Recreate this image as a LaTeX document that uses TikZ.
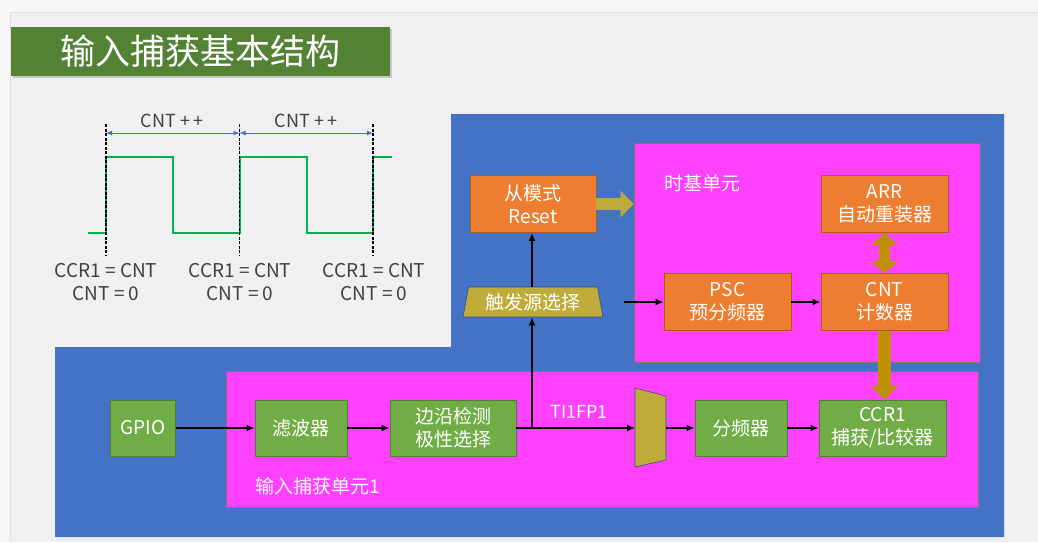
\documentclass[tikz,border=0pt]{standalone}
\usepackage{fontspec}
\setmainfont{Noto Sans CJK SC}
\usetikzlibrary{arrows.meta,shapes.geometric,shadows}
\definecolor{pagebg}{HTML}{F6F6F8}
\definecolor{slidebg}{HTML}{F0F0F0}
\definecolor{titlegreen}{HTML}{548235}
\definecolor{bluebg}{HTML}{4472C4}
\definecolor{magentabg}{HTML}{FF40FF}
\definecolor{orangebox}{HTML}{ED7D31}
\definecolor{orangeedge}{HTML}{AE5A21}
\definecolor{greenbox}{HTML}{70AD47}
\definecolor{greenedge}{HTML}{507E32}
\definecolor{olivefill}{HTML}{BFAB3A}
\definecolor{goldfill}{HTML}{BF9000}
\definecolor{wavegreen}{HTML}{00B050}
\definecolor{labelgray}{HTML}{404040}
\definecolor{unitedge}{HTML}{6F7F6F}
\tikzset{
  unitbox/.style={fill=magentabg, draw=unitedge, line width=0.8pt, inner sep=0pt},
  basebox/.style={draw, line width=0.9pt, inner sep=0pt, minimum height=57pt, text=white, align=center, font=\fontsize{19}{23}\selectfont},
  obox/.style={basebox, fill=orangebox, draw=orangeedge},
  gbox/.style={basebox, fill=greenbox, draw=greenedge},
  conn/.style={line width=1.6pt, -{Latex[length=8pt,width=7pt]}},
  fatolive/.style={line width=12pt, draw=olivefill, -{Triangle[length=13pt,width=26pt,line width=0.1pt]}},
  fatgold/.style={line width=12pt, draw=goldfill},
  wavelbl/.style={text=labelgray, font=\fontsize{19}{23}\selectfont, align=center, inner sep=0pt},
  dashline/.style={line width=1.5pt, dash pattern=on 3pt off 1.5pt},
  spanarrow/.style={draw=bluebg, line width=1pt, {Latex[length=6pt,width=5pt]}-{Latex[length=6pt,width=5pt]}},
  unitlbl/.style={text=white, font=\fontsize{19}{23}\selectfont, inner sep=0pt}
}
\begin{document}
\begin{tikzpicture}[x=1pt,y=-1pt]
\useasboundingbox (0,0) rectangle (1038,542);
\fill[pagebg] (0,0) rectangle (1038,542);
\fill[slidebg] (10,12) rectangle (1038,542);
\draw[black!12, line width=0.8pt] (10,542) -- (10,12) -- (1038,12);

% title
\node[fill=titlegreen, minimum width=379pt, minimum height=49pt, inner sep=0pt,
      text=white, font=\fontsize{35}{38}\selectfont,
      drop shadow={shadow xshift=2pt, shadow yshift=-2pt, opacity=0.35}] (title) at (200.5,51.5) {输入捕获基本结构};

% blue background
\fill[bluebg] (451,114) -- (1004,114) -- (1004,537) -- (55,537) -- (55,347) -- (451,347) -- cycle;

% units
\node[unitbox, minimum width=346pt, minimum height=219pt] (tb) at (807,252.5) {};
\node[unitbox, minimum width=752pt, minimum height=136pt] (icu) at (602,439) {};
\node[unitlbl] (tblbl) at (702,183) {时基单元};
\node[unitlbl] (iculbl) at (318,486) {输入捕获单元1};

% time base boxes
\node[obox, minimum width=126pt] (slave) at (533,204) {从模式\\Reset};
\node[obox, minimum width=127pt] (arr) at (884.5,204) {ARR\\自动重装器};
\node[obox, minimum width=127pt] (psc) at (727.5,302) {PSC\\预分频器};
\node[obox, minimum width=127pt] (cnt) at (884.5,302) {CNT\\计数器};

% trigger selector
\node[trapezium, trapezium stretches=true, trapezium left angle=77, trapezium right angle=77,
      minimum width=140pt, minimum height=30pt, inner sep=0pt, fill=olivefill, draw=bluebg!70!black, line width=0.6pt,
      text=white, font=\fontsize{19}{23}\selectfont] (trig) at (533,302) {触发源选择};

% input capture boxes
\node[gbox, minimum width=65pt, minimum height=56pt] (gpio) at (143,428) {GPIO};
\node[gbox, minimum width=92pt, minimum height=56pt] (filter) at (301,428) {滤波器};
\node[gbox, minimum width=126pt, minimum height=56pt] (edge) at (453,428) {边沿检测\\极性选择};
\node[gbox, minimum width=92pt, minimum height=56pt] (div) at (741,428) {分频器};
\node[gbox, minimum width=127pt, minimum height=56pt] (ccr) at (882.5,428) {CCR1\\捕获/比较器};

% mux
\fill[olivefill, draw=bluebg!70!black, line width=0.6pt] (635,388) -- (666,396) -- (666,460) -- (635,467) -- cycle;
\coordinate (muxW) at (635,428);
\coordinate (muxE) at (666,428);
\node[unitlbl, font=\fontsize{18}{22}\selectfont] (ti) at (579,412) {TI1FP1};

% connectors
\coordinate (br) at (532,428);
\coordinate (tstart) at (624,302);
\draw[conn] (gpio) -- (filter);
\draw[conn] (filter) -- (edge);
\draw[conn] (edge.east) -- (muxW);
\draw[conn] (br) -- (br |- trig.south);
\draw[conn] (trig.north -| br) -- (br |- slave.south);
\draw[conn] (tstart) -- (psc.west);
\draw[conn] (psc) -- (cnt);
\draw[conn] (muxE) -- (div);
\draw[conn] (div) -- (ccr);

% fat arrows
\draw[fatolive] (slave.east) -- (slave.east -| tb.west);
\draw[fatgold, line width=11pt, {Triangle[length=12pt,width=27pt,line width=0.1pt]}-{Triangle[length=12pt,width=27pt,line width=0.1pt]}] (arr.south) -- (cnt.north);
\draw[fatgold, line width=13pt, -{Triangle[length=14pt,width=27pt,line width=0.1pt]}] (cnt.south) -- (cnt.south |- ccr.north);

% waveform
\coordinate (d1t) at (106,124); \coordinate (d1b) at (106,256);
\coordinate (d2t) at (239.5,124); \coordinate (d2b) at (239.5,256);
\coordinate (d3t) at (373,124); \coordinate (d3b) at (373,256);
\draw[wavegreen, line width=2pt] (88,233) -- (106,233) -- (106,157) -- (173,157) -- (173,233) -- (239.5,233)
   -- (239.5,157) -- (307,157) -- (307,233) -- (373,233) -- (373,157) -- (392,157);
\draw[dashline] (d1t) -- (d1b);
\draw[dashline] (d2t) -- (d2b);
\draw[dashline] (d3t) -- (d3b);
\coordinate (a1) at (106,133); \coordinate (a2) at (239.5,133); \coordinate (a3) at (373,133);
\draw[spanarrow] (a1) -- (a2);
\draw[spanarrow] (a2) -- (a3);
\node[wavelbl, font=\fontsize{18}{22}\selectfont] (cp1) at (172,121) {CNT +\,+};
\node[wavelbl, font=\fontsize{18}{22}\selectfont] (cp2) at (306,121) {CNT +\,+};
\node[wavelbl] (l1) at (106,282) {CCR1 = CNT\\CNT = 0};
\node[wavelbl] (l2) at (240,282) {CCR1 = CNT\\CNT = 0};
\node[wavelbl] (l3) at (374,282) {CCR1 = CNT\\CNT = 0};
\end{tikzpicture}
\end{document}
